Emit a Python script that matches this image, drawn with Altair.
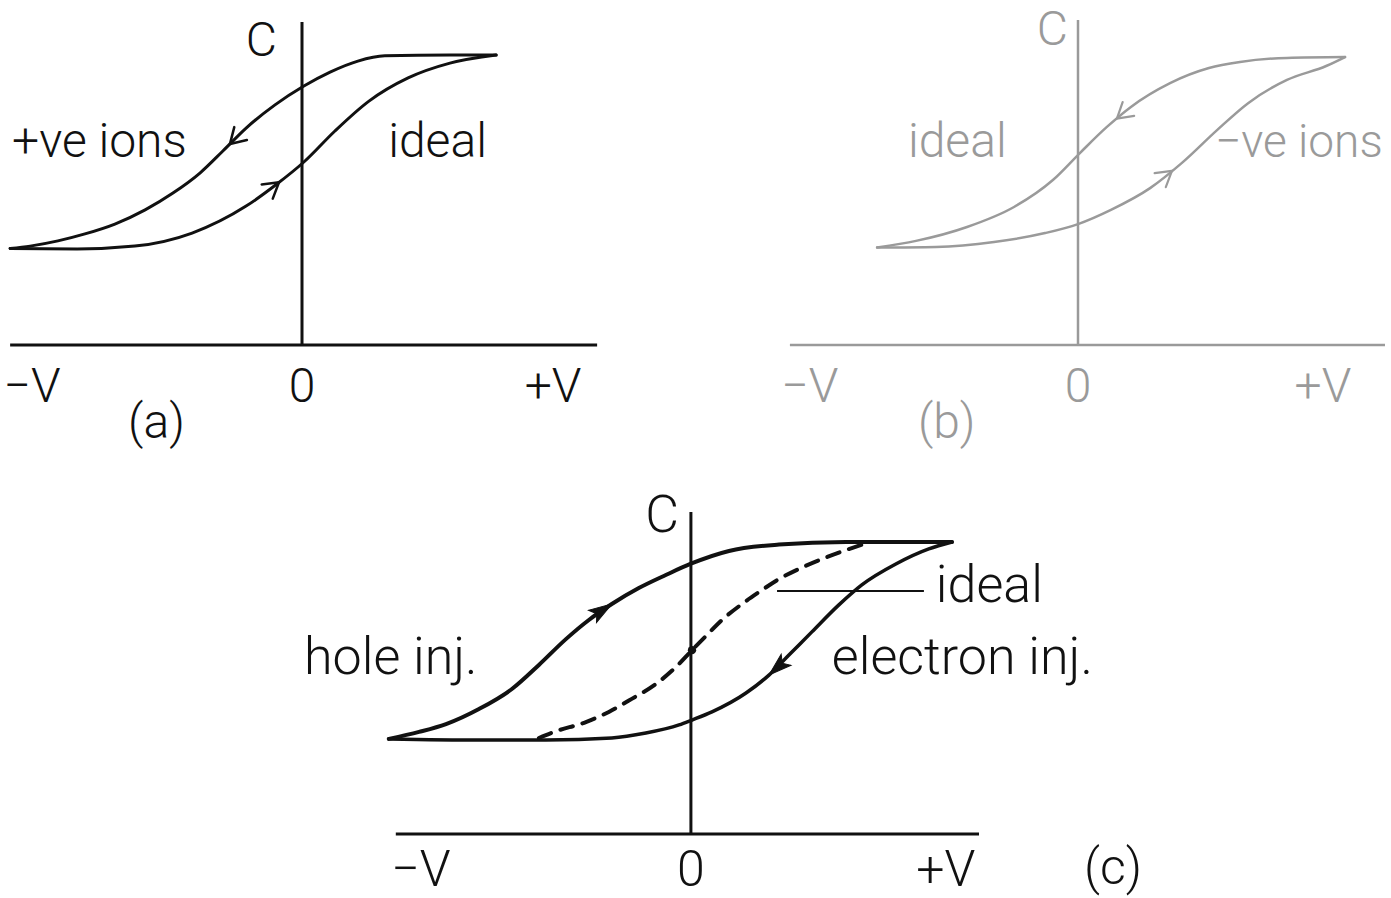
import altair as alt
import numpy as np
import pandas as pd

FONT = "Roboto"
FONT_WEIGHT = 300
PX_V = 270.0   # screen pixels per unit of V
PX_C = 290.0   # screen pixels per unit of C

# ---------------- (a) positive mobile ions ----------------
A_IONS_V = [-1.081, -1.007, -0.904, -0.804, -0.693, -0.581, -0.478, -0.378, -0.293,
            -0.207, -0.100, 0.007, 0.104, 0.207, 0.307, 0.548, 0.719]
A_IONS_C = [0.333, 0.341, 0.359, 0.383, 0.417, 0.466, 0.524, 0.593, 0.669,
            0.748, 0.828, 0.893, 0.941, 0.979, 0.997, 1.000, 1.000]
A_IDEAL_V = [-1.081, -0.833, -0.619, -0.407, -0.207, -0.093, 0.007, 0.122, 0.248,
             0.393, 0.548, 0.719]
A_IDEAL_C = [0.333, 0.331, 0.341, 0.386, 0.479, 0.555, 0.631, 0.738, 0.841,
             0.921, 0.972, 1.000]

# ---------------- (b) negative mobile ions ----------------
B_IDEAL_V = [-0.744, -0.600, -0.411, -0.237, -0.093, 0.007, 0.107, 0.196, 0.341,
             0.485, 0.600, 0.774, 0.989]
B_IDEAL_C = [0.336, 0.359, 0.407, 0.476, 0.569, 0.662, 0.752, 0.821, 0.903,
             0.955, 0.976, 0.990, 0.993]
B_IONS_V = [-0.744, -0.526, -0.311, -0.122, 0.000, 0.122, 0.267, 0.385, 0.515,
            0.630, 0.774, 0.919, 0.989]
B_IONS_C = [0.336, 0.338, 0.355, 0.386, 0.417, 0.466, 0.541, 0.628, 0.741,
            0.834, 0.914, 0.962, 0.993]

# ---------------- (c) charge injection ----------------
C_HOLE_V = [-1.119, -1.007, -0.907, -0.785, -0.663, -0.563, -0.463, -0.378, -0.293,
            -0.193, -0.093, 0.000, 0.141, 0.326, 0.574, 0.967]
C_HOLE_C = [0.328, 0.352, 0.379, 0.431, 0.500, 0.583, 0.672, 0.738, 0.793,
            0.848, 0.893, 0.932, 0.976, 0.998, 1.007, 1.007]
C_ELEC_V = [-1.119, -0.785, -0.537, -0.293, -0.167, -0.044, 0.004, 0.078, 0.204,
            0.289, 0.363, 0.448, 0.548, 0.633, 0.759, 0.881, 0.967]
C_ELEC_C = [0.328, 0.324, 0.324, 0.331, 0.348, 0.376, 0.393, 0.421, 0.486,
            0.548, 0.617, 0.697, 0.790, 0.859, 0.931, 0.983, 1.007]
C_IDEAL_V = [-0.563, -0.507, -0.389, -0.304, -0.219, -0.130, -0.052, 0.004, 0.056,
             0.115, 0.189, 0.252, 0.326, 0.400, 0.485, 0.574, 0.641]
C_IDEAL_C = [0.331, 0.352, 0.386, 0.421, 0.466, 0.517, 0.579, 0.634, 0.683,
             0.738, 0.793, 0.834, 0.879, 0.914, 0.948, 0.979, 1.000]

# tick labels under the V axis
TICK_TEXT = ["\u2212V", "0", "+V"]
TICK_V = [-1.0, 0.0, 0.93]

# annotations: text, V, C (baseline)
A_TEXT = ["+ve ions", "ideal", "(a)"]
A_TEXT_V = [-1.074, 0.319, -0.644]
A_TEXT_C = [0.648, 0.648, -0.321]
B_TEXT = ["ideal", "(b)"]
B_TEXT_V = [-0.630, -0.593]
B_TEXT_C = [0.648, -0.321]
B_IONS_TEXT = "\u2212ve ions"
B_IONS_TEXT_V = 0.507
C_TEXT = ["hole inj.", "electron inj.", "ideal"]
C_TEXT_V = [-1.433, 0.522, 0.907]
C_TEXT_C = [0.552, 0.552, 0.800]
C_PANEL_TAG_V = 1.456

# leader from the dashed curve to its "ideal" label in (c)
C_LEADER_V = [0.319, 0.863]
C_LEADER_C = 0.838

CHEVRON = "M -1 -0.6 L 0 0 L -1 0.6"
HARPOON = "M 0 0 L -1 -0.32 L -0.78 0 L -1 0.32 Z"


def scales(v_lo, v_hi, c_lo, c_hi):
    x = alt.Scale(domain=[v_lo, v_hi], nice=False, zero=False)
    y = alt.Scale(domain=[c_lo, c_hi], nice=False, zero=False)
    return x, y


def curve(v, c, sx, sy, color, width, dash=None):
    df = pd.DataFrame({"V": v, "C": c, "i": range(len(v))})
    kw = dict(color=color, strokeWidth=width, interpolate="monotone",
              strokeCap="round", strokeJoin="round")
    if dash:
        kw["strokeDash"] = dash
    return alt.Chart(df).mark_line(**kw).encode(
        x=alt.X("V:Q", scale=sx, axis=None),
        y=alt.Y("C:Q", scale=sy, axis=None),
        order="i:Q",
    )


def arrow(v, c, v_at, forward, sx, sy, color, shape, size, filled, width=2.5):
    v = np.asarray(v)
    c = np.asarray(c)
    h = 0.03
    c0 = float(np.interp(v_at, v, c))
    dc = float(np.interp(v_at + h, v, c) - np.interp(v_at - h, v, c))
    dx, dy = 2 * h * PX_V, -dc * PX_C
    if not forward:
        dx, dy = -dx, -dy
    ang = float(np.degrees(np.arctan2(dy, dx)) % 360)
    df = pd.DataFrame({"V": [v_at], "C": [c0], "ang": [ang]})
    kw = dict(shape=shape, size=size, filled=filled, opacity=1)
    if filled:
        kw.update(fill=color, stroke=color, strokeWidth=1)
    else:
        kw.update(stroke=color, strokeWidth=width, strokeCap="round")
    return alt.Chart(df).mark_point(**kw).encode(
        x=alt.X("V:Q", scale=sx, axis=None),
        y=alt.Y("C:Q", scale=sy, axis=None),
        angle=alt.Angle("ang:Q", scale=None),
    )


def axes_lines(v_lo, v_hi, c_top, sx, sy, color, width):
    h = pd.DataFrame({"v1": [v_lo], "v2": [v_hi], "c1": [0.0], "c2": [0.0]})
    v = pd.DataFrame({"v1": [0.0], "v2": [0.0], "c1": [0.0], "c2": [c_top]})
    df = pd.concat([h, v])
    return alt.Chart(df).mark_rule(color=color, strokeWidth=width).encode(
        x=alt.X("v1:Q", scale=sx, axis=None), x2="v2:Q",
        y=alt.Y("c1:Q", scale=sy, axis=None), y2="c2:Q",
    )


def texts(txt, v, c, sx, sy, color, size, align="left"):
    df = pd.DataFrame({"t": txt, "V": v, "C": c})
    return alt.Chart(df).mark_text(
        align=align, baseline="alphabetic", font=FONT, fontSize=size,
        fontWeight=FONT_WEIGHT, color=color,
    ).encode(
        x=alt.X("V:Q", scale=sx, axis=None),
        y=alt.Y("C:Q", scale=sy, axis=None),
        text="t:N",
    )


# ---------- panel (a) ----------
ax, ay = scales(-302 / PX_V, 298 / PX_V, -105 / PX_C, 345 / PX_C)
INK = "#111111"
panel_a = alt.layer(
    axes_lines(-1.081, 1.093, 1.114, ax, ay, INK, 3),
    curve(A_IONS_V, A_IONS_C, ax, ay, INK, 3),
    curve(A_IDEAL_V, A_IDEAL_C, ax, ay, INK, 3),
    arrow(A_IONS_V, A_IONS_C, -0.267, False, ax, ay, INK, CHEVRON, 900, False),
    arrow(A_IDEAL_V, A_IDEAL_C, -0.085, True, ax, ay, INK, CHEVRON, 900, False),
    texts(A_TEXT, A_TEXT_V, A_TEXT_C, ax, ay, INK, 48),
    texts(["C"], [-0.093], [0.997], ax, ay, INK, 48, align="right"),
    texts(TICK_TEXT, TICK_V, [-0.197] * 3, ax, ay, INK, 48, align="center"),
).properties(width=600, height=450)

# ---------- panel (b) ----------
bx, by = scales(-298 / PX_V, 313 / PX_V, -105 / PX_C, 345 / PX_C)
GREY = "#9a9a9a"
panel_b = alt.layer(
    axes_lines(-1.067, 1.137, 1.121, bx, by, GREY, 2.5),
    curve(B_IDEAL_V, B_IDEAL_C, bx, by, GREY, 2.5),
    curve(B_IONS_V, B_IONS_C, bx, by, GREY, 2.5),
    arrow(B_IDEAL_V, B_IDEAL_C, 0.144, False, bx, by, GREY, CHEVRON, 900, False, 2.2),
    arrow(B_IONS_V, B_IONS_C, 0.348, True, bx, by, GREY, CHEVRON, 900, False, 2.2),
    texts(B_TEXT, B_TEXT_V, B_TEXT_C, bx, by, GREY, 48),
    texts([B_IONS_TEXT], [B_IONS_TEXT_V], [0.648], bx, by, GREY, 46),
    texts(["C"], [-0.037], [1.034], bx, by, GREY, 48, align="right"),
    texts(TICK_TEXT, [-0.993, 0.0, 0.907], [-0.197] * 3, bx, by, GREY, 48, align="center"),
).properties(width=611, height=450)

# ---------- panel (c) ----------
cx, cy = scales(-442 / PX_V, 449 / PX_V, -66 / PX_C, 342 / PX_C)
leader = pd.DataFrame({"v1": [C_LEADER_V[0]], "v2": [C_LEADER_V[1]], "c": [C_LEADER_C]})
cross = pd.DataFrame({"V": [0.004], "C": [float(np.interp(0.004, C_IDEAL_V, C_IDEAL_C))]})
panel_c = alt.layer(
    axes_lines(-1.093, 1.067, 1.110, cx, cy, INK, 3),
    curve(C_IDEAL_V, C_IDEAL_C, cx, cy, INK, 4, dash=[13, 10]),
    curve(C_ELEC_V, C_ELEC_C, cx, cy, INK, 3.5),
    curve(C_HOLE_V, C_HOLE_C, cx, cy, INK, 4),
    alt.Chart(leader).mark_rule(color=INK, strokeWidth=2).encode(
        x=alt.X("v1:Q", scale=cx, axis=None), x2="v2:Q",
        y=alt.Y("c:Q", scale=cy, axis=None),
    ),
    alt.Chart(cross).mark_point(filled=True, size=70, color=INK, opacity=1).encode(
        x=alt.X("V:Q", scale=cx, axis=None), y=alt.Y("C:Q", scale=cy, axis=None),
    ),
    arrow(C_HOLE_V, C_HOLE_C, -0.293, True, cx, cy, INK, HARPOON, 2100, True),
    arrow(C_ELEC_V, C_ELEC_C, 0.289, False, cx, cy, INK, HARPOON, 2100, True),
    texts(C_TEXT, C_TEXT_V, C_TEXT_C, cx, cy, INK, 52),
    texts(["(c)"], [C_PANEL_TAG_V], [-0.172], cx, cy, INK, 50),
    texts(["C"], [-0.044], [1.041], cx, cy, INK, 52, align="right"),
    texts(TICK_TEXT, [-1.0, 0.0, 0.944], [-0.179] * 3, cx, cy, INK, 50, align="center"),
).properties(width=891, height=408)

top = alt.hconcat(panel_a, panel_b, spacing=180)
chart = alt.vconcat(top, panel_c, spacing=40, center=True).properties(
    padding=0, background="white"
).configure_view(stroke=None)

chart.save("out.html", embed_options={"renderer": "svg", "actions": False})
